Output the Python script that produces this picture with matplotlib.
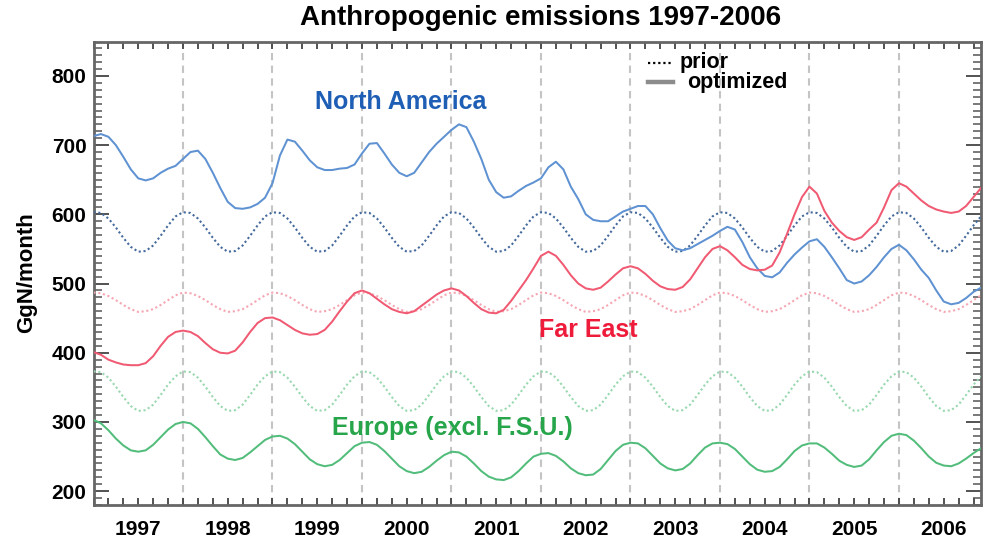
import matplotlib
matplotlib.use("Agg")
import matplotlib.pyplot as plt
from matplotlib.ticker import MultipleLocator, FixedLocator

plt.rcParams['font.family'] = ['Liberation Sans', 'DejaVu Sans']
plt.rcParams['font.weight'] = 'bold'

# ---------------- data (GgN/month, monthly Jan 1997 .. Dec 2006) ----------------
year_labels = ['1997', '1998', '1999', '2000', '2001', '2002', '2003', '2004', '2005', '2006']
months = list(range(120))

na_prior = [
    603, 602, 594, 581, 566, 553, 546, 547, 555, 569, 584, 597,
    603, 602, 594, 581, 566, 553, 546, 547, 555, 569, 584, 597,
    603, 602, 594, 581, 566, 553, 546, 547, 555, 569, 584, 597,
    603, 602, 594, 581, 566, 553, 546, 547, 555, 569, 584, 597,
    603, 602, 594, 581, 566, 553, 546, 547, 555, 569, 584, 597,
    603, 602, 594, 581, 566, 553, 546, 547, 555, 569, 584, 597,
    603, 602, 594, 581, 566, 553, 546, 547, 555, 569, 584, 597,
    603, 602, 594, 581, 566, 553, 546, 547, 555, 569, 584, 597,
    603, 602, 594, 581, 566, 553, 546, 547, 555, 569, 584, 597,
    603, 602, 594, 581, 566, 553, 546, 547, 555, 569, 584, 597,
]
na_opt = [
    713, 716, 712, 700, 683, 665, 652, 649, 652, 660, 666, 670,
    680, 690, 692, 680, 660, 638, 618, 609, 608, 610, 615, 624,
    645, 685, 708, 705, 692, 678, 668, 664, 664, 666, 667, 672,
    688, 702, 703, 688, 672, 660, 655, 660, 675, 690, 702, 712,
    722, 730, 726, 705, 680, 650, 632, 624, 626, 634, 641, 646,
    652, 668, 676, 665, 640, 622, 600, 592, 590, 590, 597, 604,
    608, 612, 612, 600, 580, 562, 551, 548, 551, 557, 563, 569,
    576, 582, 578, 560, 538, 522, 511, 509, 516, 530, 542, 552,
    561, 564, 553, 538, 522, 505, 500, 503, 512, 524, 538, 550,
    556, 548, 535, 520, 508, 490, 474, 470, 472, 479, 488, 494,
]
fe_prior = [
    487, 486, 482, 476, 469, 463, 459, 460, 463, 469, 476, 483,
    487, 486, 482, 476, 469, 463, 459, 460, 463, 469, 476, 483,
    487, 486, 482, 476, 469, 463, 459, 460, 463, 469, 476, 483,
    487, 486, 482, 476, 469, 463, 459, 460, 463, 469, 476, 483,
    487, 486, 482, 476, 469, 463, 459, 460, 463, 469, 476, 483,
    487, 486, 482, 476, 469, 463, 459, 460, 463, 469, 476, 483,
    487, 486, 482, 476, 469, 463, 459, 460, 463, 469, 476, 483,
    487, 486, 482, 476, 469, 463, 459, 460, 463, 469, 476, 483,
    487, 486, 482, 476, 469, 463, 459, 460, 463, 469, 476, 483,
    487, 486, 482, 476, 469, 463, 459, 460, 463, 469, 476, 483,
]
fe_opt = [
    401, 397, 390, 386, 383, 382, 382, 385, 395, 410, 423, 430,
    432, 430, 424, 414, 405, 400, 399, 403, 415, 430, 443, 450,
    451, 447, 440, 433, 428, 426, 427, 433, 445, 460, 474, 486,
    490, 486, 478, 470, 463, 459, 457, 460, 468, 476, 484, 490,
    493, 490, 482, 472, 463, 458, 457, 462, 475, 490, 505, 522,
    540, 546, 540, 527, 512, 500, 493, 491, 494, 503, 513, 522,
    525, 522, 514, 504, 496, 492, 491, 495, 506, 522, 538, 550,
    554, 548, 538, 527, 521, 519, 520, 526, 545, 572, 600, 625,
    640, 630, 605, 588, 576, 567, 563, 567, 578, 588, 610, 635,
    645, 640, 630, 620, 612, 607, 604, 602, 604, 612, 625, 638,
]
eu_prior = [
    373, 372, 364, 351, 336, 323, 316, 317, 325, 339, 354, 366,
    373, 372, 364, 351, 336, 323, 316, 317, 325, 339, 354, 366,
    373, 372, 364, 351, 336, 323, 316, 317, 325, 339, 354, 366,
    373, 372, 364, 351, 336, 323, 316, 317, 325, 339, 354, 366,
    373, 372, 364, 351, 336, 323, 316, 317, 325, 339, 354, 366,
    373, 372, 364, 351, 336, 323, 316, 317, 325, 339, 354, 366,
    373, 372, 364, 351, 336, 323, 316, 317, 325, 339, 354, 366,
    373, 372, 364, 351, 336, 323, 316, 317, 325, 339, 354, 366,
    373, 372, 364, 351, 336, 323, 316, 317, 325, 339, 354, 366,
    373, 372, 364, 351, 336, 323, 316, 317, 325, 339, 354, 366,
]
eu_opt = [
    303, 298, 288, 276, 266, 259, 257, 259, 267, 278, 289, 297,
    300, 298, 290, 278, 265, 253, 247, 245, 248, 256, 265, 274,
    279, 280, 276, 268, 257, 246, 239, 236, 238, 245, 255, 265,
    270, 271, 267, 258, 247, 236, 229, 226, 228, 235, 244, 252,
    257, 256, 250, 240, 229, 221, 217, 216, 220, 229, 240, 250,
    254, 255, 251, 243, 233, 226, 223, 224, 232, 245, 258, 267,
    270, 269, 262, 251, 240, 233, 230, 232, 240, 252, 263, 269,
    270, 268, 261, 250, 239, 231, 228, 229, 235, 246, 258, 266,
    269, 269, 263, 254, 244, 238, 235, 237, 246, 259, 271, 280,
    283, 281, 273, 262, 250, 241, 237, 236, 240, 247, 255, 262,
]

W, H = 983, 544
fig = plt.figure(figsize=(W / 100, H / 100), dpi=100)
ax = fig.add_axes([93.5 / W, 39 / H, 887.5 / W, 463 / H])

# year boundaries
for m in range(12, 120, 12):
    ax.axvline(m, color='#c4c4c4', lw=1.5, ls=(0, (3.5, 2.6)), zorder=1)

dot = (0, (1.0, 1.3))
ax.plot(months, na_prior, color='#44699c', lw=1.5, ls=dot, zorder=3)
ax.plot(months, fe_prior, color='#f5a6b2', lw=1.5, ls=dot, zorder=3)
ax.plot(months, eu_prior, color='#98d8af', lw=1.5, ls=dot, zorder=3)
ax.plot(months, na_opt, color='#5f92d2', lw=1.45, zorder=4)
ax.plot(months, fe_opt, color='#f05a72', lw=1.45, zorder=4)
ax.plot(months, eu_opt, color='#52bd7b', lw=1.45, zorder=4)

ax.set_xlim(0, 119)
ax.set_ylim(180, 849)

# ticks
ax.xaxis.set_major_locator(FixedLocator([6 + 12 * i for i in range(10)]))
ax.set_xticklabels(year_labels)
ax.xaxis.set_minor_locator(MultipleLocator(2))
ax.yaxis.set_major_locator(MultipleLocator(100))
ax.yaxis.set_minor_locator(MultipleLocator(10))
ax.tick_params(axis='x', which='both', direction='in', top=True, bottom=True,
               length=5, width=1.3, color='#444', labelsize=15, pad=11)
ax.tick_params(axis='y', which='major', direction='in', left=True, right=True,
               length=11, width=1.3, color='#444', labelsize=15, pad=5)
ax.tick_params(axis='y', which='minor', direction='in', left=True, right=True,
               length=5.5, width=1.1, color='#555')
for lab in ax.get_xticklabels() + ax.get_yticklabels():
    lab.set_fontweight('bold')
for s in ax.spines.values():
    s.set_color('#666')
    s.set_linewidth(2)

# region labels
ax.text(41.2, 762, 'North America', color='#1e5fb5', fontsize=18,
        fontweight='bold', ha='center', va='center')
ax.text(66.3, 433, 'Far East', color='#ee1c3a', fontsize=18,
        fontweight='bold', ha='center', va='center')
ax.text(48.1, 291, 'Europe (excl. F.S.U.)', color='#27a54a', fontsize=18,
        fontweight='bold', ha='center', va='center')

# legend
ax.plot([74.3, 77.7], [819, 819], color='black', lw=1.6, ls=dot, zorder=5)
ax.text(78.6, 820, 'prior', fontsize=15.5, fontweight='bold', ha='left', va='center')
ax.plot([74.3, 77.7], [791, 791], color='#8c8c8c', lw=3.2, zorder=5)
ax.text(79.6, 791, 'optimized', fontsize=15.5, fontweight='bold', ha='left', va='center')

fig.text(541 / W, 1 - 18 / H, 'Anthropogenic emissions 1997-2006', fontsize=20,
         fontweight='bold', ha='center', va='center')
fig.text(27 / W, 1 - 273 / H, 'GgN/month', rotation=90, fontsize=16,
         fontweight='bold', ha='center', va='center')

fig.savefig('out.png', dpi=100)
